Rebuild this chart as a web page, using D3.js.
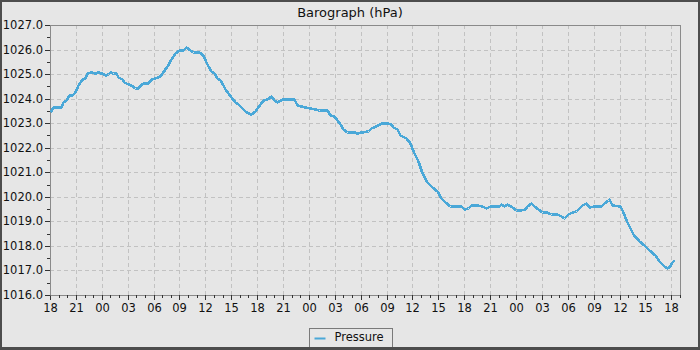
<!DOCTYPE html>
<html>
<head>
<meta charset="utf-8">
<script src="https://cdn.jsdelivr.net/npm/d3@7/dist/d3.min.js"></script>
<style>
  body { margin: 0; background: #e6e6e6; }
  svg { display: block; font-family: "DejaVu Sans", sans-serif; }
</style>
</head>
<body>
<svg id="chart" width="700" height="350"></svg>
<script>
// data: hours since 18:00 on day 1, pressure in hPa
const hours = [
  0.0, 0.35, 1.3, 1.5, 1.9, 2.2, 2.6, 2.9, 3.2, 3.7, 4.0, 4.3, 4.7, 5.2, 5.6, 5.9,
  6.2, 6.4, 6.7, 6.9, 7.3, 7.6, 7.9, 8.3, 8.6, 9.0, 9.4, 9.8, 10.2, 10.5, 10.9, 11.3,
  11.7, 12.2, 12.7, 13.0, 13.5, 14.0, 14.5, 14.9, 15.4, 15.8, 16.2, 16.6, 17.1, 17.5,
  17.8, 18.1, 18.3, 18.6, 19.0, 19.4, 19.7, 20.0, 20.3, 20.6, 21.0, 21.4, 21.8, 22.1,
  22.6, 23.0, 23.3, 23.7, 24.0, 24.3, 24.7, 25.2, 25.6, 26.0, 26.3, 26.6, 27.0, 27.8,
  28.3, 28.6, 29.1, 29.6, 30.1, 30.7, 31.2, 32.1, 32.4, 32.9, 33.2, 33.6, 34.0, 34.4,
  35.2, 35.6, 36.0, 36.8, 37.2, 37.8, 38.3, 39.0, 39.5, 39.8, 40.2, 40.6, 41.2, 41.7,
  42.1, 42.6, 43.1, 43.7, 44.3, 44.8, 45.3, 45.8, 46.3, 47.0, 47.6, 48.0, 48.4, 48.8,
  49.5, 50.0, 50.5, 51.0, 52.0, 52.3, 52.6, 53.0, 53.5, 54.0, 54.5, 55.0, 55.3, 55.7,
  56.1, 56.5, 57.0, 57.5, 58.0, 58.7, 59.2, 59.6, 60.0, 60.5, 61.0, 61.3, 61.7, 62.1,
  62.5, 63.0, 63.8, 64.2, 64.6, 64.8, 65.1, 66.0, 66.4, 66.8, 67.2, 67.6, 68.2, 68.8,
  69.4, 70.1, 70.6, 71.1, 71.5, 71.8, 72.0, 72.3
];
const pressure = [
  1023.45, 1023.65, 1023.65, 1023.85, 1023.95, 1024.13, 1024.15, 1024.27, 1024.54, 1024.78, 1024.85, 1025.05, 1025.08, 1025.05, 1025.1, 1025.05,
  1025.0, 1024.95, 1025.02, 1025.1, 1025.05, 1025.05, 1024.88, 1024.8, 1024.68, 1024.6, 1024.55, 1024.45, 1024.45, 1024.58, 1024.62, 1024.65,
  1024.78, 1024.85, 1024.92, 1025.05, 1025.32, 1025.6, 1025.86, 1025.97, 1025.98, 1026.1, 1026.0, 1025.88, 1025.88, 1025.85,
  1025.7, 1025.5, 1025.35, 1025.12, 1025.05, 1024.85, 1024.75, 1024.55, 1024.4, 1024.25, 1024.05, 1023.88, 1023.8, 1023.65,
  1023.5, 1023.42, 1023.38, 1023.5, 1023.6, 1023.8, 1023.95, 1024.0, 1024.1, 1023.95, 1023.88, 1023.95, 1023.98, 1024.0,
  1024.0, 1023.75, 1023.7, 1023.65, 1023.6, 1023.58, 1023.55, 1023.55, 1023.35, 1023.3, 1023.12, 1022.95, 1022.78, 1022.66,
  1022.66, 1022.6, 1022.66, 1022.7, 1022.8, 1022.88, 1023.0, 1023.02, 1022.95, 1022.85, 1022.76, 1022.5, 1022.4, 1022.2,
  1021.85, 1021.45, 1020.95, 1020.6, 1020.4, 1020.23, 1019.96, 1019.8, 1019.62, 1019.62, 1019.62, 1019.5, 1019.55, 1019.65,
  1019.66, 1019.62, 1019.55, 1019.62, 1019.62, 1019.7, 1019.62, 1019.7, 1019.58, 1019.48, 1019.45, 1019.52, 1019.62, 1019.75,
  1019.62, 1019.5, 1019.4, 1019.38, 1019.3, 1019.28, 1019.22, 1019.14, 1019.3, 1019.4, 1019.42, 1019.55, 1019.68, 1019.75,
  1019.6, 1019.62, 1019.62, 1019.75, 1019.88, 1019.93, 1019.65, 1019.62, 1019.38, 1019.07, 1018.73, 1018.5, 1018.22, 1018.04,
  1017.84, 1017.63, 1017.38, 1017.18, 1017.1, 1017.2, 1017.3, 1017.42
];
const yTicks = d3.range(1016, 1027.01, 1);
const yMinorTicks = d3.range(1016.5, 1027, 1);
const title = "Barograph (hPa)";
const seriesName = "Pressure";

const start = new Date(2024, 0, 1, 18, 0, 0);
const end = d3.timeMinute.offset(start, 73 * 60);
const points = hours.map((h, i) => ({ t: d3.timeSecond.offset(start, Math.round(h * 3600)), v: pressure[i] }));

const svg = d3.select("svg#chart");
const W = 700, H = 350;
const plot = { left: 50, right: 680, top: 25, bottom: 295 };
const gridColor = "#c2c2c2";
const axisColor = "#8a8a8a";
const lineColor = "#4aa8d8";

svg.append("rect").attr("width", W).attr("height", H).attr("fill", "#e6e6e6");

const x = d3.scaleTime().domain([start, end]).rangeRound([plot.left, plot.right]);
const y = d3.scaleLinear().domain([1016, 1027]).rangeRound([plot.bottom, plot.top]);

const xMajor = d3.timeHour.every(3).range(start, d3.timeMinute.offset(end, 1));
const xMinor = d3.timeHour.every(1).range(start, d3.timeMinute.offset(end, 1)).filter(d => d.getHours() % 3 !== 0);

// grid
const grid = svg.append("g").attr("stroke", gridColor).attr("stroke-dasharray", "4,3").attr("stroke-width", 1);
grid.selectAll("line.v").data(xMajor.slice(1)).join("line")
  .attr("x1", d => x(d) + 0.5).attr("x2", d => x(d) + 0.5)
  .attr("y1", plot.top).attr("y2", plot.bottom);
grid.selectAll("line.h").data(yTicks.slice(1, -1)).join("line")
  .attr("y1", d => y(d) + 0.5).attr("y2", d => y(d) + 0.5)
  .attr("x1", plot.left).attr("x2", plot.right);

// plot outline
svg.append("rect")
  .attr("x", plot.left + 0.5).attr("y", plot.top + 0.5)
  .attr("width", plot.right - plot.left).attr("height", plot.bottom - plot.top)
  .attr("fill", "none").attr("stroke", axisColor);

// axes
const styleAxis = g => {
  g.select(".domain").attr("stroke", axisColor);
  g.selectAll(".tick line").attr("stroke", "#333");
  g.selectAll(".tick text").attr("fill", "#111").attr("font-size", "11.5px").attr("font-family", "DejaVu Sans");
};

svg.append("g").attr("transform", `translate(0,${plot.bottom})`)
  .call(d3.axisBottom(x).tickValues(xMajor).tickFormat(d3.timeFormat("%H")).tickSize(5).tickSizeOuter(0).tickPadding(4))
  .call(styleAxis);
svg.append("g").attr("transform", `translate(0,${plot.bottom})`)
  .call(d3.axisBottom(x).tickValues(xMinor).tickFormat("").tickSize(3).tickSizeOuter(0))
  .call(g => g.select(".domain").remove())
  .call(g => g.selectAll(".tick line").attr("stroke", "#333"));

svg.append("g").attr("transform", `translate(${plot.left},0)`)
  .call(d3.axisLeft(y).tickValues(yTicks).tickFormat(d3.format(".1f")).tickSize(5).tickSizeOuter(0).tickPadding(2))
  .call(styleAxis);
svg.append("g").attr("transform", `translate(${plot.left},0)`)
  .call(d3.axisLeft(y).tickValues(yMinorTicks).tickFormat("").tickSize(3).tickSizeOuter(0))
  .call(g => g.select(".domain").remove())
  .call(g => g.selectAll(".tick line").attr("stroke", "#333"));

// series (crisp edges to get the blocky look of the original)
const line = d3.line().x(d => x(d.t) + 0.5).y(d => y(d.v) + 0.5);
svg.append("path").datum(points)
  .attr("d", line)
  .attr("fill", "none")
  .attr("stroke", lineColor)
  .attr("stroke-width", 2.6)
  .attr("stroke-linejoin", "round")
  .attr("shape-rendering", "crispEdges");

// title
svg.append("text")
  .attr("x", 350).attr("y", 16.5)
  .attr("text-anchor", "middle")
  .attr("font-size", "13px")
  .attr("fill", "#111")
  .text(title);

// legend
const legend = svg.append("g").attr("transform", "translate(309.5,328.5)");
legend.append("rect").attr("width", 83).attr("height", 20)
  .attr("fill", "#e6e6e6").attr("stroke", "#7a7a7a");
legend.append("line").attr("x1", 5).attr("x2", 16).attr("y1", 10).attr("y2", 10)
  .attr("stroke", lineColor).attr("stroke-width", 2);
legend.append("text").attr("x", 25).attr("y", 12.5)
  .attr("font-size", "11.5px").attr("fill", "#111")
  .text(seriesName);

// outer frame
const frame = svg.append("g").attr("fill", "#4d4d4d");
frame.append("rect").attr("x", 0).attr("y", 0).attr("width", W).attr("height", 2);
frame.append("rect").attr("x", 0).attr("y", 0).attr("width", 2).attr("height", H);
frame.append("rect").attr("x", W - 2).attr("y", 0).attr("width", 2).attr("height", H);
frame.append("rect").attr("x", 0).attr("y", H - 3).attr("width", W).attr("height", 3);
</script>
</body>
</html>
